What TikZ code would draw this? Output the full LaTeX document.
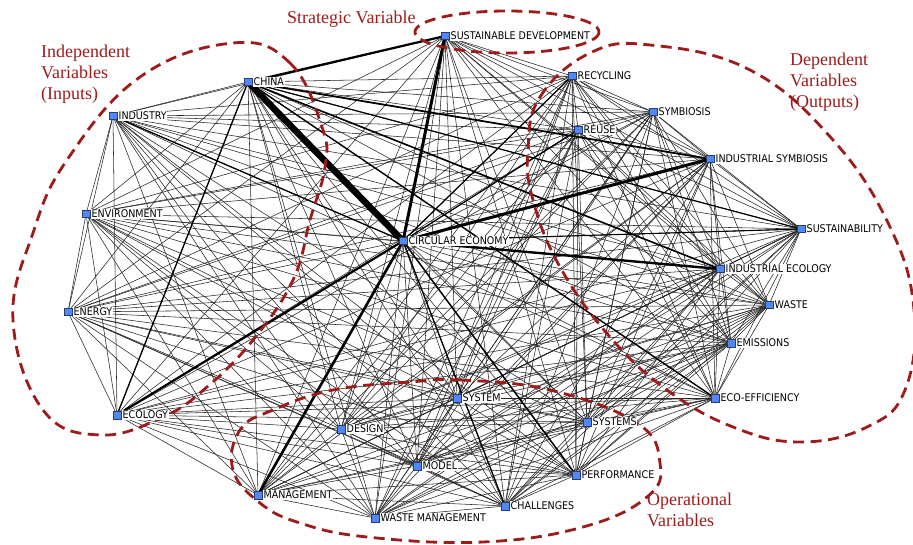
\documentclass[tikz,border=0pt]{standalone}
\usepackage{fontspec}
\setmainfont{Liberation Serif}
\newfontfamily\nodefont{DejaVu Sans Condensed}
\definecolor{dred}{RGB}{158,27,27}
\definecolor{nblue}{RGB}{82,136,245}
\definecolor{nborder}{RGB}{40,60,110}
\pgfdeclarelayer{edges}
\pgfdeclarelayer{curves}
\pgfsetlayers{edges,curves,main}
\newcommand\vnode[4]{%
  \node[sq] (#1) at (#2,#3) {};
  \node[lab] (#1-l) at ([xshift=1pt]#1.east) {#4};}
\begin{document}
\begin{tikzpicture}[x=1pt,y=-1pt,
  sq/.style={rectangle, draw=nborder, fill=nblue, line width=0.5pt, minimum size=7.5pt, inner sep=0pt},
  lab/.style={anchor=west, font=\nodefont\fontsize{10.6}{11}\selectfont, fill=white, inner sep=0.5pt, text=black},
  grp/.style={draw=dred, line width=2.8pt, dash pattern=on 11pt off 6.5pt},
  gtxt/.style={text=dred, font=\fontsize{18}{21.3}\selectfont, align=left, inner sep=0pt},
  edge/.style={line width=0.55pt, black!85}]
\clip (0,0) rectangle (913,545);

\vnode{sd}{445}{36}{SUSTAINABLE DEVELOPMENT}
\vnode{china}{248}{82}{CHINA}
\vnode{industry}{113}{116}{INDUSTRY}
\vnode{recycling}{572}{76}{RECYCLING}
\vnode{symbiosis}{653}{112}{SYMBIOSIS}
\vnode{reuse}{578}{130}{REUSE}
\vnode{indsym}{710}{159}{INDUSTRIAL SYMBIOSIS}
\vnode{environment}{86}{214}{ENVIRONMENT}
\vnode{ce}{403}{241}{CIRCULAR ECONOMY}
\vnode{sustainability}{801}{229}{SUSTAINABILITY}
\vnode{indeco}{720}{269}{INDUSTRIAL ECOLOGY}
\vnode{energy}{68}{312}{ENERGY}
\vnode{waste}{769}{305}{WASTE}
\vnode{emissions}{731}{343}{EMISSIONS}
\vnode{ecoeff}{715}{398}{ECO-EFFICIENCY}
\vnode{ecology}{117}{415}{ECOLOGY}
\vnode{system}{457}{398}{SYSTEM}
\vnode{design}{341}{429}{DESIGN}
\vnode{systems}{587}{422}{SYSTEMS}
\vnode{model}{417}{466}{MODEL}
\vnode{performance}{576}{475}{PERFORMANCE}
\vnode{management}{258}{495}{MANAGEMENT}
\vnode{challenges}{505}{506}{CHALLENGES}
\vnode{wastemgmt}{375}{518}{WASTE MANAGEMENT}

\begin{pgfonlayer}{edges}
\fill[white] (0,0) rectangle (913,545);
\foreach \a [count=\i] in {sd,china,industry,recycling,symbiosis,reuse,indsym,environment,ce,sustainability,indeco,energy,waste,emissions,ecoeff,ecology,system,design,systems,model,performance,management,challenges,wastemgmt}{
  \foreach \b [count=\j] in {sd,china,industry,recycling,symbiosis,reuse,indsym,environment,ce,sustainability,indeco,energy,waste,emissions,ecoeff,ecology,system,design,systems,model,performance,management,challenges,wastemgmt}{
    \ifnum\j>\i \draw[edge] (\a.center) -- (\b.center);\fi
  }
}
\foreach \a/\b/\w in {china/ce/6.5, sd/ce/3, china/sd/2.2, ce/indsym/3, ce/indeco/2.4,
  ce/management/2.6, ce/ecology/2.2, china/indsym/1.8, china/indeco/1.6, china/ecoeff/1.4,
  china/ecology/1.3, industry/ce/1.3, ce/performance/1.5, ce/challenges/1.3, ce/recycling/1.2,
  ce/reuse/1.2, ce/sustainability/1.1, china/sustainability/1.2}{
  \draw[line width=\w pt, black] (\a.center) -- (\b.center);
}
\end{pgfonlayer}

\begin{pgfonlayer}{curves}
\draw[grp] plot[smooth cycle, tension=0.7] coordinates {(233,43) (290,63) (322,127) (325,167) (310,220) (293,280) (253,340) (207,387) (163,417) (100,435) (43,410) (13,320) (33,233) (67,160) (140,77)};
\draw[grp] (507,32) ellipse [x radius=92, y radius=21];
\draw[grp] plot[smooth cycle, tension=0.7] coordinates {(528,150) (540,97) (590,53) (650,45) (750,70) (833,140) (890,227) (914,310) (905,390) (867,427) (800,442) (733,427) (667,390) (610,337) (560,267) (533,200)};
\draw[grp] plot[smooth cycle, tension=0.7] coordinates {(410,382) (460,380) (550,390) (637,423) (660,463) (647,497) (583,527) (483,542) (367,537) (300,523) (260,503) (233,470) (240,430) (273,410) (333,390)};
\end{pgfonlayer}

\node[gtxt, anchor=north west] (indep) at (41,44.7) {Independent\\Variables\\(Inputs)};
\node[gtxt, anchor=base west] (strat) at (287,24) {Strategic Variable};
\node[gtxt, anchor=north west] (dep) at (790,52.7) {Dependent\\Variables\\(Outputs)};
\node[gtxt, anchor=north west] (oper) at (647,492.6) {Operational\\Variables};
\end{tikzpicture}
\end{document}
